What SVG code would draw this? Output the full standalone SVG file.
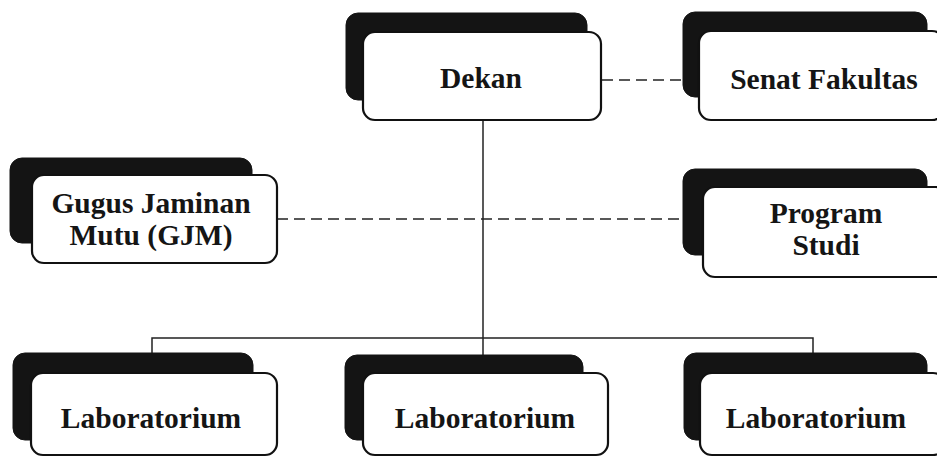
<svg xmlns="http://www.w3.org/2000/svg" width="937" height="458" viewBox="0 0 937 458">
<style>
.sh{fill:#141414;stroke:#141414;stroke-width:1}
.bx{fill:#fff;stroke:#111;stroke-width:2.2}
.t{font-family:"Liberation Serif","Times New Roman",serif;font-weight:bold;font-size:29.5px;fill:#151515;text-anchor:middle}
.ln{stroke:#222;stroke-width:1.5;fill:none}
.ds{stroke:#222;stroke-width:1.6;fill:none;stroke-dasharray:11 6}
</style>
<rect width="937" height="458" fill="#fff"/>
<g id="connectors">
<line class="ln" x1="483" y1="120" x2="483" y2="355"/>
<polyline class="ln" points="152,353 152,338 813,338 813,353"/>
<line class="ds" x1="602" y1="80" x2="699" y2="80"/>
<line class="ds" x1="277" y1="219" x2="703" y2="219"/>
</g>
<g id="dekan">
<rect class="sh" x="346" y="13" width="241" height="87" rx="12"/>
<rect class="bx" x="363" y="32" width="238" height="88" rx="12"/>
<text class="t" x="481" y="88">Dekan</text>
</g>
<g id="senat">
<rect class="sh" x="683" y="12" width="244" height="85" rx="12"/>
<rect class="bx" x="699" y="31" width="245" height="89" rx="12"/>
<text class="t" x="824" y="89">Senat Fakultas</text>
</g>
<g id="gjm">
<rect class="sh" x="10" y="158" width="242" height="85" rx="12"/>
<rect class="bx" x="32" y="175" width="245" height="88" rx="12"/>
<text class="t" x="151" y="213">Gugus Jaminan</text>
<text class="t" x="151" y="245">Mutu (GJM)</text>
</g>
<g id="prodi">
<rect class="sh" x="683" y="169" width="244" height="86" rx="12"/>
<rect class="bx" x="703" y="187" width="245" height="90" rx="12"/>
<text class="t" x="826" y="223">Program</text>
<text class="t" x="826" y="255">Studi</text>
</g>
<g id="lab1">
<rect class="sh" x="13" y="353" width="240" height="87" rx="12"/>
<rect class="bx" x="31" y="373" width="246" height="82" rx="12"/>
<text class="t" x="151" y="428">Laboratorium</text>
</g>
<g id="lab2">
<rect class="sh" x="345" y="355" width="238" height="85" rx="12"/>
<rect class="bx" x="363" y="373" width="245" height="82" rx="12"/>
<text class="t" x="485" y="428">Laboratorium</text>
</g>
<g id="lab3">
<rect class="sh" x="684" y="353" width="243" height="87" rx="12"/>
<rect class="bx" x="700" y="373" width="245" height="82" rx="12"/>
<text class="t" x="816" y="428">Laboratorium</text>
</g>
</svg>
